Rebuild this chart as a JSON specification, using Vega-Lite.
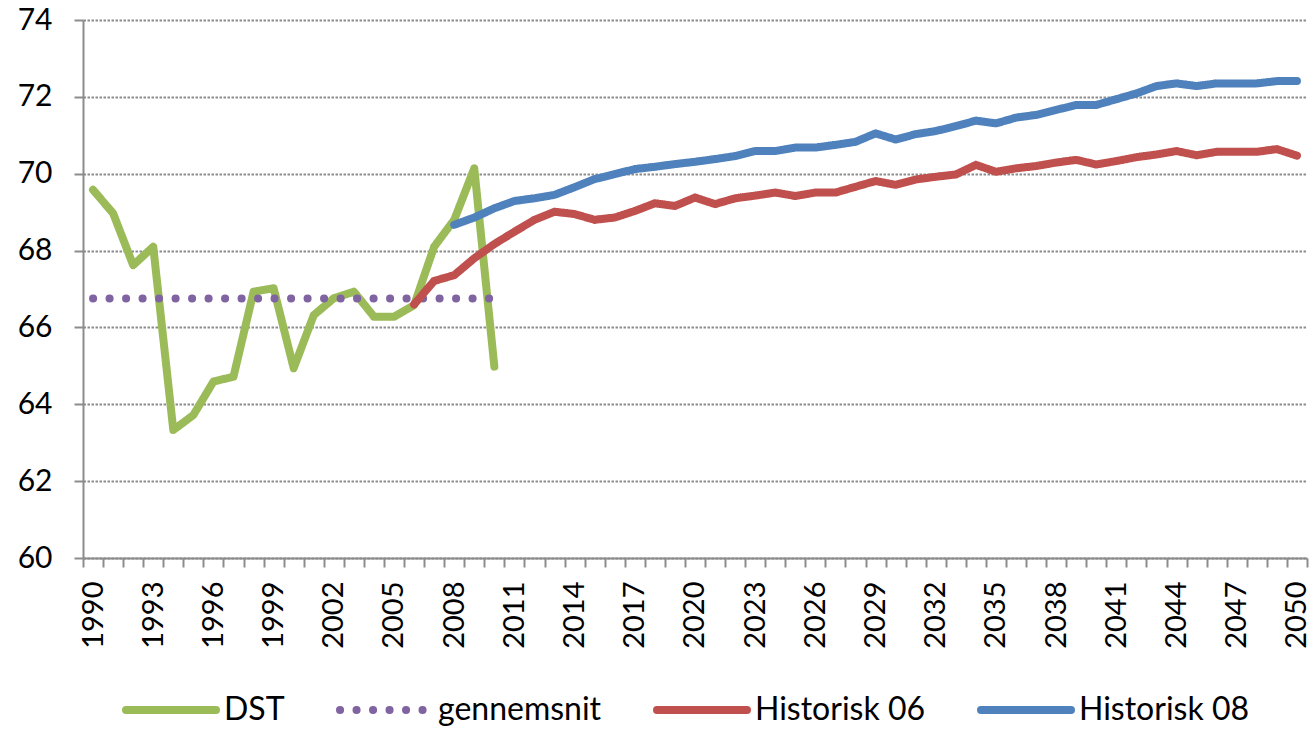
{
  "$schema": "https://vega.github.io/schema/vega-lite/v6.json",
  "width": 1224,
  "height": 538,
  "autosize": {"type": "none"},
  "padding": {"left": 83, "top": 20, "right": 8, "bottom": 171},
  "background": "white",
  "config": {
    "view": {"stroke": null},
    "font": "Lato"
  },
  "data": {
    "values": [
      {"year": 1990, "series": "DST", "value": 69.58},
      {"year": 1991, "series": "DST", "value": 68.97},
      {"year": 1992, "series": "DST", "value": 67.62},
      {"year": 1993, "series": "DST", "value": 68.10},
      {"year": 1994, "series": "DST", "value": 63.33},
      {"year": 1995, "series": "DST", "value": 63.72},
      {"year": 1996, "series": "DST", "value": 64.59},
      {"year": 1997, "series": "DST", "value": 64.72},
      {"year": 1998, "series": "DST", "value": 66.93},
      {"year": 1999, "series": "DST", "value": 67.02},
      {"year": 2000, "series": "DST", "value": 64.94},
      {"year": 2001, "series": "DST", "value": 66.32},
      {"year": 2002, "series": "DST", "value": 66.76},
      {"year": 2003, "series": "DST", "value": 66.93},
      {"year": 2004, "series": "DST", "value": 66.28},
      {"year": 2005, "series": "DST", "value": 66.28},
      {"year": 2006, "series": "DST", "value": 66.58},
      {"year": 2007, "series": "DST", "value": 68.10},
      {"year": 2008, "series": "DST", "value": 68.80},
      {"year": 2009, "series": "DST", "value": 70.14},
      {"year": 2010, "series": "DST", "value": 64.98},
      {"year": 1990, "series": "gennemsnit", "value": 66.75},
      {"year": 1991, "series": "gennemsnit", "value": 66.75},
      {"year": 1992, "series": "gennemsnit", "value": 66.75},
      {"year": 1993, "series": "gennemsnit", "value": 66.75},
      {"year": 1994, "series": "gennemsnit", "value": 66.75},
      {"year": 1995, "series": "gennemsnit", "value": 66.75},
      {"year": 1996, "series": "gennemsnit", "value": 66.75},
      {"year": 1997, "series": "gennemsnit", "value": 66.75},
      {"year": 1998, "series": "gennemsnit", "value": 66.75},
      {"year": 1999, "series": "gennemsnit", "value": 66.75},
      {"year": 2000, "series": "gennemsnit", "value": 66.75},
      {"year": 2001, "series": "gennemsnit", "value": 66.75},
      {"year": 2002, "series": "gennemsnit", "value": 66.75},
      {"year": 2003, "series": "gennemsnit", "value": 66.75},
      {"year": 2004, "series": "gennemsnit", "value": 66.75},
      {"year": 2005, "series": "gennemsnit", "value": 66.75},
      {"year": 2006, "series": "gennemsnit", "value": 66.75},
      {"year": 2007, "series": "gennemsnit", "value": 66.75},
      {"year": 2008, "series": "gennemsnit", "value": 66.75},
      {"year": 2009, "series": "gennemsnit", "value": 66.75},
      {"year": 2010, "series": "gennemsnit", "value": 66.75},
      {"year": 2006, "series": "Historisk 06", "value": 66.60},
      {"year": 2007, "series": "Historisk 06", "value": 67.21},
      {"year": 2008, "series": "Historisk 06", "value": 67.36},
      {"year": 2009, "series": "Historisk 06", "value": 67.80},
      {"year": 2010, "series": "Historisk 06", "value": 68.17},
      {"year": 2011, "series": "Historisk 06", "value": 68.49},
      {"year": 2012, "series": "Historisk 06", "value": 68.80},
      {"year": 2013, "series": "Historisk 06", "value": 69.01},
      {"year": 2014, "series": "Historisk 06", "value": 68.95},
      {"year": 2015, "series": "Historisk 06", "value": 68.80},
      {"year": 2016, "series": "Historisk 06", "value": 68.86},
      {"year": 2017, "series": "Historisk 06", "value": 69.03},
      {"year": 2018, "series": "Historisk 06", "value": 69.23},
      {"year": 2019, "series": "Historisk 06", "value": 69.16},
      {"year": 2020, "series": "Historisk 06", "value": 69.38},
      {"year": 2021, "series": "Historisk 06", "value": 69.21},
      {"year": 2022, "series": "Historisk 06", "value": 69.36},
      {"year": 2023, "series": "Historisk 06", "value": 69.43},
      {"year": 2024, "series": "Historisk 06", "value": 69.51},
      {"year": 2025, "series": "Historisk 06", "value": 69.42},
      {"year": 2026, "series": "Historisk 06", "value": 69.51},
      {"year": 2027, "series": "Historisk 06", "value": 69.51},
      {"year": 2028, "series": "Historisk 06", "value": 69.66},
      {"year": 2029, "series": "Historisk 06", "value": 69.81},
      {"year": 2030, "series": "Historisk 06", "value": 69.71},
      {"year": 2031, "series": "Historisk 06", "value": 69.85},
      {"year": 2032, "series": "Historisk 06", "value": 69.92},
      {"year": 2033, "series": "Historisk 06", "value": 69.98},
      {"year": 2034, "series": "Historisk 06", "value": 70.23},
      {"year": 2035, "series": "Historisk 06", "value": 70.05},
      {"year": 2036, "series": "Historisk 06", "value": 70.14},
      {"year": 2037, "series": "Historisk 06", "value": 70.20},
      {"year": 2038, "series": "Historisk 06", "value": 70.29},
      {"year": 2039, "series": "Historisk 06", "value": 70.36},
      {"year": 2040, "series": "Historisk 06", "value": 70.24},
      {"year": 2041, "series": "Historisk 06", "value": 70.33},
      {"year": 2042, "series": "Historisk 06", "value": 70.43},
      {"year": 2043, "series": "Historisk 06", "value": 70.50},
      {"year": 2044, "series": "Historisk 06", "value": 70.59},
      {"year": 2045, "series": "Historisk 06", "value": 70.48},
      {"year": 2046, "series": "Historisk 06", "value": 70.57},
      {"year": 2047, "series": "Historisk 06", "value": 70.57},
      {"year": 2048, "series": "Historisk 06", "value": 70.57},
      {"year": 2049, "series": "Historisk 06", "value": 70.64},
      {"year": 2050, "series": "Historisk 06", "value": 70.47},
      {"year": 2008, "series": "Historisk 08", "value": 68.67},
      {"year": 2009, "series": "Historisk 08", "value": 68.86},
      {"year": 2010, "series": "Historisk 08", "value": 69.10},
      {"year": 2011, "series": "Historisk 08", "value": 69.29},
      {"year": 2012, "series": "Historisk 08", "value": 69.36},
      {"year": 2013, "series": "Historisk 08", "value": 69.45},
      {"year": 2014, "series": "Historisk 08", "value": 69.65},
      {"year": 2015, "series": "Historisk 08", "value": 69.86},
      {"year": 2016, "series": "Historisk 08", "value": 69.99},
      {"year": 2017, "series": "Historisk 08", "value": 70.12},
      {"year": 2018, "series": "Historisk 08", "value": 70.18},
      {"year": 2019, "series": "Historisk 08", "value": 70.25},
      {"year": 2020, "series": "Historisk 08", "value": 70.31},
      {"year": 2021, "series": "Historisk 08", "value": 70.38},
      {"year": 2022, "series": "Historisk 08", "value": 70.46},
      {"year": 2023, "series": "Historisk 08", "value": 70.59},
      {"year": 2024, "series": "Historisk 08", "value": 70.59},
      {"year": 2025, "series": "Historisk 08", "value": 70.68},
      {"year": 2026, "series": "Historisk 08", "value": 70.68},
      {"year": 2027, "series": "Historisk 08", "value": 70.75},
      {"year": 2028, "series": "Historisk 08", "value": 70.83},
      {"year": 2029, "series": "Historisk 08", "value": 71.05},
      {"year": 2030, "series": "Historisk 08", "value": 70.89},
      {"year": 2031, "series": "Historisk 08", "value": 71.03},
      {"year": 2032, "series": "Historisk 08", "value": 71.11},
      {"year": 2033, "series": "Historisk 08", "value": 71.24},
      {"year": 2034, "series": "Historisk 08", "value": 71.38},
      {"year": 2035, "series": "Historisk 08", "value": 71.31},
      {"year": 2036, "series": "Historisk 08", "value": 71.46},
      {"year": 2037, "series": "Historisk 08", "value": 71.53},
      {"year": 2038, "series": "Historisk 08", "value": 71.66},
      {"year": 2039, "series": "Historisk 08", "value": 71.79},
      {"year": 2040, "series": "Historisk 08", "value": 71.79},
      {"year": 2041, "series": "Historisk 08", "value": 71.94},
      {"year": 2042, "series": "Historisk 08", "value": 72.09},
      {"year": 2043, "series": "Historisk 08", "value": 72.28},
      {"year": 2044, "series": "Historisk 08", "value": 72.35},
      {"year": 2045, "series": "Historisk 08", "value": 72.28},
      {"year": 2046, "series": "Historisk 08", "value": 72.35},
      {"year": 2047, "series": "Historisk 08", "value": 72.35},
      {"year": 2048, "series": "Historisk 08", "value": 72.35},
      {"year": 2049, "series": "Historisk 08", "value": 72.41},
      {"year": 2050, "series": "Historisk 08", "value": 72.41}
    ]
  },
  "mark": {"type": "line", "strokeWidth": 8, "strokeCap": "round", "strokeJoin": "round"},
  "encoding": {
    "x": {
      "field": "year",
      "type": "quantitative",
      "scale": {"domain": [1989.5, 2050.5], "nice": false, "zero": false},
      "axis": {
        "title": null,
        "values": [1989.5,1990.5,1991.5,1992.5,1993.5,1994.5,1995.5,1996.5,1997.5,1998.5,1999.5,2000.5,2001.5,2002.5,2003.5,2004.5,2005.5,2006.5,2007.5,2008.5,2009.5,2010.5,2011.5,2012.5,2013.5,2014.5,2015.5,2016.5,2017.5,2018.5,2019.5,2020.5,2021.5,2022.5,2023.5,2024.5,2025.5,2026.5,2027.5,2028.5,2029.5,2030.5,2031.5,2032.5,2033.5,2034.5,2035.5,2036.5,2037.5,2038.5,2039.5,2040.5,2041.5,2042.5,2043.5,2044.5,2045.5,2046.5,2047.5,2048.5,2049.5,2050.5],
        "labelExpr": "((datum.value + 0.5 - 1990) % 3 == 0 && datum.value < 2050) ? format(datum.value + 0.5, 'd') : ''",
        "labelOffset": 10,
        "labelAngle": -90,
        "labelFont": "Lato",
        "labelFontSize": 29,
        "labelColor": "#000000",
        "labelPadding": 14,
        "labelOverlap": false,
        "labelBound": false,
        "labelFlush": false,
        "grid": false,
        "tickSize": 9,
        "tickWidth": 2,
        "tickColor": "#8c8c8c",
        "domainColor": "#8c8c8c",
        "domainWidth": 2
      }
    },
    "y": {
      "field": "value",
      "type": "quantitative",
      "scale": {"domain": [60, 74], "nice": false, "zero": false},
      "axis": {
        "title": null,
        "values": [60, 62, 64, 66, 68, 70, 72, 74],
        "labelFont": "Lato",
        "labelFontSize": 30,
        "labelColor": "#000000",
        "labelPadding": 22,
        "tickSize": 9,
        "tickWidth": 2,
        "tickColor": "#8c8c8c",
        "domainColor": "#8c8c8c",
        "domainWidth": 2,
        "grid": true,
        "gridColor": "#8c8c8c",
        "gridWidth": 2,
        "gridDash": [2.5, 1.5]
      }
    },
    "color": {
      "field": "series",
      "type": "nominal",
      "sort": ["DST", "gennemsnit", "Historisk 06", "Historisk 08"],
      "scale": {
        "domain": ["DST", "gennemsnit", "Historisk 06", "Historisk 08"],
        "range": ["#9BBB59", "#8064A2", "#C0504D", "#4F81BD"]
      },
      "legend": {
        "title": null,
        "orient": "none",
        "legendX": 39,
        "legendY": 641,
        "direction": "horizontal",
        "columns": 4,
        "symbolType": "stroke",
        "symbolSize": 8100,
        "symbolStrokeWidth": 8,
        "labelFont": "Lato",
        "labelFontSize": 32,
        "labelColor": "#000000",
        "labelOffset": 4,
        "labelLimit": 400,
        "columnPadding": 39,
        "symbolOpacity": 1,
        "encode": {"symbols": {"update": {"strokeCap": {"value": "round"}}}}
      }
    },
    "strokeDash": {
      "field": "series",
      "type": "nominal",
      "sort": ["DST", "gennemsnit", "Historisk 06", "Historisk 08"],
      "scale": {
        "domain": ["DST", "gennemsnit", "Historisk 06", "Historisk 08"],
        "range": [[1, 0], [0.1, 16.4], [1, 0], [1, 0]]
      },
      "legend": {
        "title": null,
        "orient": "none",
        "legendX": 39,
        "legendY": 641,
        "direction": "horizontal",
        "columns": 4,
        "symbolType": "stroke",
        "symbolSize": 8100,
        "symbolStrokeWidth": 8,
        "labelFont": "Lato",
        "labelFontSize": 32,
        "labelColor": "#000000",
        "labelOffset": 4,
        "labelLimit": 400,
        "columnPadding": 39,
        "symbolOpacity": 1,
        "encode": {"symbols": {"update": {"strokeCap": {"value": "round"}}}}
      }
    }
  }
}
